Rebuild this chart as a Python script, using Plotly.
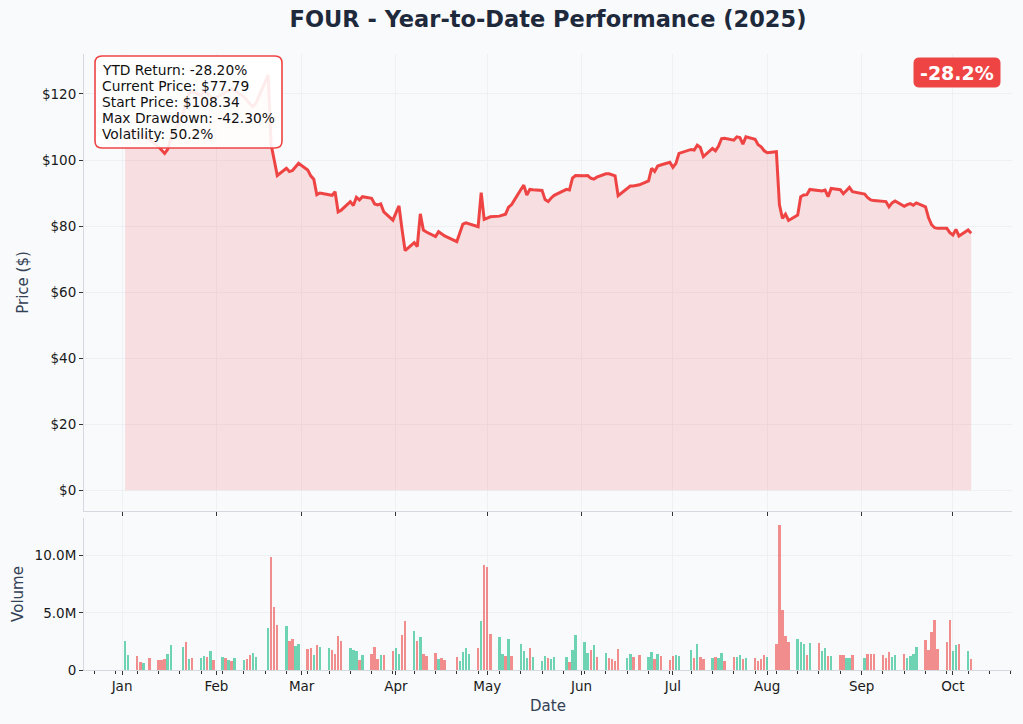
import pandas as pd
import plotly.graph_objects as go
from plotly.subplots import make_subplots


# NYSE holidays inside the window (no bars / no price on these days)
holidays = ['2025-01-01', '2025-01-09', '2025-01-20', '2025-02-17', '2025-04-18',
            '2025-05-26', '2025-06-19', '2025-07-04', '2025-09-01']
dates = pd.bdate_range('2025-01-02', '2025-10-07', freq='C', holidays=holidays)

# closing prices, one list per month
close_jan = [108.34, 108.9, 108.2, 107.6, 107.3, 106.2, 104.0, 102.9, 102.0, 103.2,
             106.5, 114.0, 117.5, 120.2, 120.8, 119.6, 121.0, 120.2, 119.4, 118.5]
close_feb = [120.0, 120.5, 121.2, 121.6, 121.0, 119.2, 118.2, 117.0, 116.2, 117.2,
             125.8, 104.5, 100.0, 95.3, 97.5, 96.5, 96.8, 98.0, 99.0]
close_mar = [97.0, 95.2, 94.2, 89.5, 90.0, 89.5, 89.3, 90.4, 84.3, 84.8, 87.4,
             86.2, 88.7, 87.9, 88.9, 88.4, 86.7, 86.4, 86.7, 84.3, 81.8]
close_apr = [84.0, 86.1, 79.0, 72.59, 75.0, 73.8, 83.7, 78.8, 78.2, 76.8, 78.3,
             77.6, 77.0, 75.3, 78.0, 80.6, 81.0, 80.7, 79.8, 90.1, 82.0]
close_may = [82.4, 82.8, 83.0, 83.2, 83.6, 85.7, 86.5, 91.0, 92.4, 89.4, 91.1,
             91.0, 90.8, 88.0, 87.4, 88.5, 89.3, 91.1, 90.9, 94.5, 95.3]
close_jun = [95.2, 95.3, 94.5, 94.2, 94.8, 95.8, 95.8, 95.5, 95.2, 89.2,
             91.4, 92.1, 92.1, 92.5, 93.7, 97.5, 96.5, 98.2, 98.5, 99.3]
close_jul = [97.8, 99.0, 102.0, 103.2, 103.0, 104.5, 103.8, 101.0, 103.5, 102.8, 104.2,
             106.5, 106.6, 106.0, 107.0, 106.8, 104.8, 107.0, 106.3, 104.6, 104.0, 102.8]
close_aug = [102.2, 102.5, 86.4, 82.3, 83.6, 81.7, 83.3, 88.9, 89.4, 89.5, 91.1,
             90.7, 90.6, 90.9, 88.9, 91.4, 91.0, 89.8, 90.6, 91.7, 90.4]
close_sep = [89.7, 88.6, 87.9, 87.7, 87.6, 87.4, 85.8, 87.0, 87.6, 86.0, 86.5,
             86.8, 86.3, 87.0, 85.8, 82.5, 80.4, 79.5, 79.3, 79.3, 78.0]
close_oct = [77.3, 79.0, 77.0, 78.8, 77.79]

# daily volume in millions
vol_jan = [2.53, 1.31, 1.22, 0.70, 0.58, 1.05, 0.87, 0.87, 0.96, 1.40,
           2.18, 2.00, 2.44, 0.96, 1.05, 1.05, 1.22, 1.13, 1.66, 0.87]
vol_feb = [1.13, 1.05, 0.87, 0.78, 1.05, 0.87, 0.96, 1.31, 1.48, 1.13,
           3.66, 9.85, 5.49, 3.92, 3.84, 2.53, 2.70, 2.09, 2.27]
vol_mar = [1.83, 1.92, 1.31, 2.18, 2.00, 1.92, 1.74, 1.40, 2.97, 2.53, 1.92,
           1.74, 1.66, 0.87, 1.31, 1.40, 2.00, 0.96, 1.31, 1.31, 1.66]
vol_apr = [1.92, 1.40, 3.05, 4.27, 3.40, 2.53, 2.88, 1.40, 1.22, 1.48, 0.96,
           1.05, 0.87, 1.13, 0.78, 1.57, 1.92, 1.40, 1.92, 4.27, 9.16]
vol_may = [8.98, 3.14, 2.88, 1.40, 1.22, 2.70, 1.22, 2.27, 1.66, 1.05, 1.92,
           1.13, 0.78, 1.22, 1.05, 0.96, 1.13, 1.13, 0.70, 1.74, 3.05]
vol_jun = [2.44, 1.48, 1.74, 2.18, 1.13, 1.48, 1.05, 0.96, 0.78, 1.83,
           1.05, 1.40, 1.13, 1.31, 1.13, 1.57, 0.96, 1.40, 1.22, 0.87]
vol_jul = [1.22, 1.31, 1.22, 1.74, 1.05, 2.27, 1.13, 0.96, 1.05, 1.13, 1.05,
           1.48, 0.78, 1.13, 1.13, 1.31, 0.96, 1.05, 1.05, 0.78, 0.96, 1.31]
vol_aug = [1.13, 2.27, 12.65, 5.23, 2.97, 2.44, 2.70, 2.44, 2.27, 1.31, 2.35,
           2.35, 1.66, 1.92, 1.22, 1.22, 1.31, 1.31, 1.05, 1.05, 1.31]
vol_sep = [1.05, 1.40, 1.40, 1.40, 1.31, 1.05, 1.57, 1.13, 1.31, 1.40, 1.05,
           1.22, 1.40, 2.00, 2.62, 1.74, 3.31, 4.36, 1.83, 2.44, 4.36]
vol_oct = [1.66, 2.18, 2.27, 1.66, 0.96]

# 1 = up day (green bar), 0 = down day (red bar)
up_jan = [1, 1, 0, 0, 1, 0, 0, 0, 0, 1, 1, 1, 0, 1, 0, 1, 1, 0, 1, 0]
up_feb = [1, 0, 1, 0, 1, 1, 0, 0, 1, 1, 1, 0, 0, 0, 1, 0, 0, 1, 1]
up_mar = [0, 0, 1, 0, 1, 1, 0, 0, 0, 0, 1, 1, 1, 0, 1, 0, 0, 0, 1, 0, 0]
up_apr = [1, 1, 0, 0, 1, 0, 1, 0, 0, 0, 1, 0, 0, 0, 1, 1, 1, 1, 0, 1, 0]
up_may = [0, 0, 1, 1, 0, 1, 0, 1, 1, 1, 0, 1, 1, 1, 0, 1, 1, 1, 0, 1, 1]
up_jun = [1, 1, 0, 1, 0, 1, 0, 0, 0, 0, 1, 1, 0, 0, 1, 1, 0, 1, 0, 0]
up_jul = [0, 1, 1, 1, 0, 1, 0, 0, 1, 0, 1, 1, 0, 0, 1, 1, 0, 1, 0, 0, 0, 0]
up_aug = [1, 0, 0, 0, 0, 0, 1, 1, 1, 0, 1, 0, 1, 1, 0, 1, 0, 0, 1, 1, 0]
up_sep = [1, 0, 0, 0, 0, 0, 0, 1, 1, 0, 1, 1, 1, 1, 0, 0, 0, 0, 0, 0, 0]
up_oct = [1, 1, 0, 1, 0]

price_ticks = [0, 20, 40, 60, 80, 100, 120]
volume_ticks = [0, 5, 10]
volume_labels = ['0', '5.0M', '10.0M']

volatility_pct = 50.2

close = (close_jan + close_feb + close_mar + close_apr + close_may + close_jun
         + close_jul + close_aug + close_sep + close_oct)
volume = (vol_jan + vol_feb + vol_mar + vol_apr + vol_may + vol_jun
          + vol_jul + vol_aug + vol_sep + vol_oct)
up = (up_jan + up_feb + up_mar + up_apr + up_may + up_jun
      + up_jul + up_aug + up_sep + up_oct)
assert len(close) == len(volume) == len(up) == len(dates)

# summary stats
start_price = close[0]
current_price = close[-1]
ytd = (current_price / start_price - 1) * 100
peak = pd.Series(close).cummax()
max_dd = ((pd.Series(close) / peak - 1).min()) * 100

RED = '#ef4444'
BG = '#f8fafc'
TXT = '#1e293b'

bar_colors = ['rgba(16,185,129,0.6)' if u else 'rgba(239,68,68,0.6)' for u in up]

fig = make_subplots(rows=2, cols=1, shared_xaxes=True)

fig.add_trace(go.Scatter(x=dates, y=close, mode='lines',
                         line=dict(color=RED, width=3),
                         fill='tozeroy', fillcolor='rgba(239,68,68,0.15)',
                         showlegend=False), row=1, col=1)

fig.add_trace(go.Bar(x=dates, y=volume, marker_color=bar_colors,
                     marker_line_width=0, width=0.8 * 86400000,
                     showlegend=False), row=2, col=1)

# pixel -> paper helpers (plot area is x 84..1012, y 54..670)
L, R, T, B = 84, 11, 54, 54
W, H = 1023, 724
PW, PH = W - L - R, H - T - B


def px(xp):
    return (xp - L) / PW


def py(yp):
    return (H - B - yp) / PH


def rounded_box(x0, y0, x1, y1, r):
    pts = [
        f"M {px(x0 + r)},{py(y0)}",
        f"L {px(x1 - r)},{py(y0)}",
        f"Q {px(x1)},{py(y0)} {px(x1)},{py(y0 + r)}",
        f"L {px(x1)},{py(y1 - r)}",
        f"Q {px(x1)},{py(y1)} {px(x1 - r)},{py(y1)}",
        f"L {px(x0 + r)},{py(y1)}",
        f"Q {px(x0)},{py(y1)} {px(x0)},{py(y1 - r)}",
        f"L {px(x0)},{py(y0 + r)}",
        f"Q {px(x0)},{py(y0)} {px(x0 + r)},{py(y0)}",
        "Z",
    ]
    return " ".join(pts)


axis_common = dict(showline=True, linecolor='#d5d9df', linewidth=1, mirror=False,
                   ticks='outside', ticklen=4, tickwidth=1, tickcolor='#333333',
                   showgrid=True, gridcolor='#eef1f4', gridwidth=1, zeroline=False,
                   automargin=False, tickfont=dict(size=13.5, color='#1a1a1a'))

x_range = ['2024-12-19 12:00', '2025-10-20 10:00']

fig.update_layout(
    width=W, height=H,
    paper_bgcolor=BG, plot_bgcolor=BG,
    font=dict(family='DejaVu Sans', color=TXT),
    margin=dict(l=L, r=R, t=T, b=B),
    bargap=0,
    title=dict(text='<b>FOUR - Year-to-Date Performance (2025)</b>',
               x=px(548), xref='paper', xanchor='center',
               y=1 - 19 / H, yref='container', yanchor='middle',
               font=dict(size=22.5, color=TXT)),
    xaxis=dict(axis_common, range=x_range, type='date', dtick='M1',
               tick0='2025-01-01', showticklabels=False, matches='x2'),
    xaxis2=dict(axis_common, range=x_range, type='date', dtick='M1',
                tick0='2025-01-01', tickformat='%b',
                minor=dict(ticks='outside', ticklen=2.5, tickcolor='#333333',
                           dtick=7 * 86400000, tick0='2024-12-23', showgrid=False),
                title=dict(text='Date', standoff=7,
                           font=dict(size=15, color='#334155'))),
    yaxis=dict(axis_common, domain=[(H - B - 511) / PH, 1], range=[-6.29, 132.1],
               tickmode='array', tickvals=price_ticks,
               ticktext=['$' + str(v) for v in price_ticks],
               title=dict(text='Price ($)', standoff=9,
                          font=dict(size=15, color='#334155'))),
    yaxis2=dict(axis_common, domain=[0, (H - B - 518) / PH], range=[0, 13.28],
                tickmode='array', tickvals=volume_ticks, ticktext=volume_labels,
                title=dict(text='Volume', standoff=7,
                           font=dict(size=15, color='#334155'))),
)

stats_lines = [f"YTD Return: {ytd:.2f}%",
               f"Current Price: ${current_price:.2f}",
               f"Start Price: ${start_price:.2f}",
               f"Max Drawdown: {max_dd:.2f}%",
               f"Volatility: {volatility_pct:.1f}%"]

fig.add_shape(type='path', xref='paper', yref='paper',
              path=rounded_box(95, 56, 282, 148, 7),
              fillcolor='rgba(255,255,255,0.9)', line=dict(color=RED, width=1.6))
for i, line in enumerate(stats_lines):
    fig.add_annotation(xref='paper', yref='paper', x=px(100), y=py(69.5 + 16.2 * i),
                       xanchor='left', yanchor='middle', align='left',
                       showarrow=False, text=line,
                       font=dict(size=13.8, color='#111111'))

fig.add_shape(type='path', xref='paper', yref='paper',
              path=rounded_box(914, 58, 1000, 87, 5),
              fillcolor=RED, line=dict(color=RED, width=1))
fig.add_annotation(xref='paper', yref='paper', x=px(957), y=py(72.5),
                   xanchor='center', yanchor='middle', showarrow=False,
                   text=f"<b>{ytd:.1f}%</b>", font=dict(size=19, color='white'))

# page body margin would shift the figure by 8px
fig.write_html("out.html", config={'displayModeBar': False},
               post_script="document.body.style.margin='0';")
